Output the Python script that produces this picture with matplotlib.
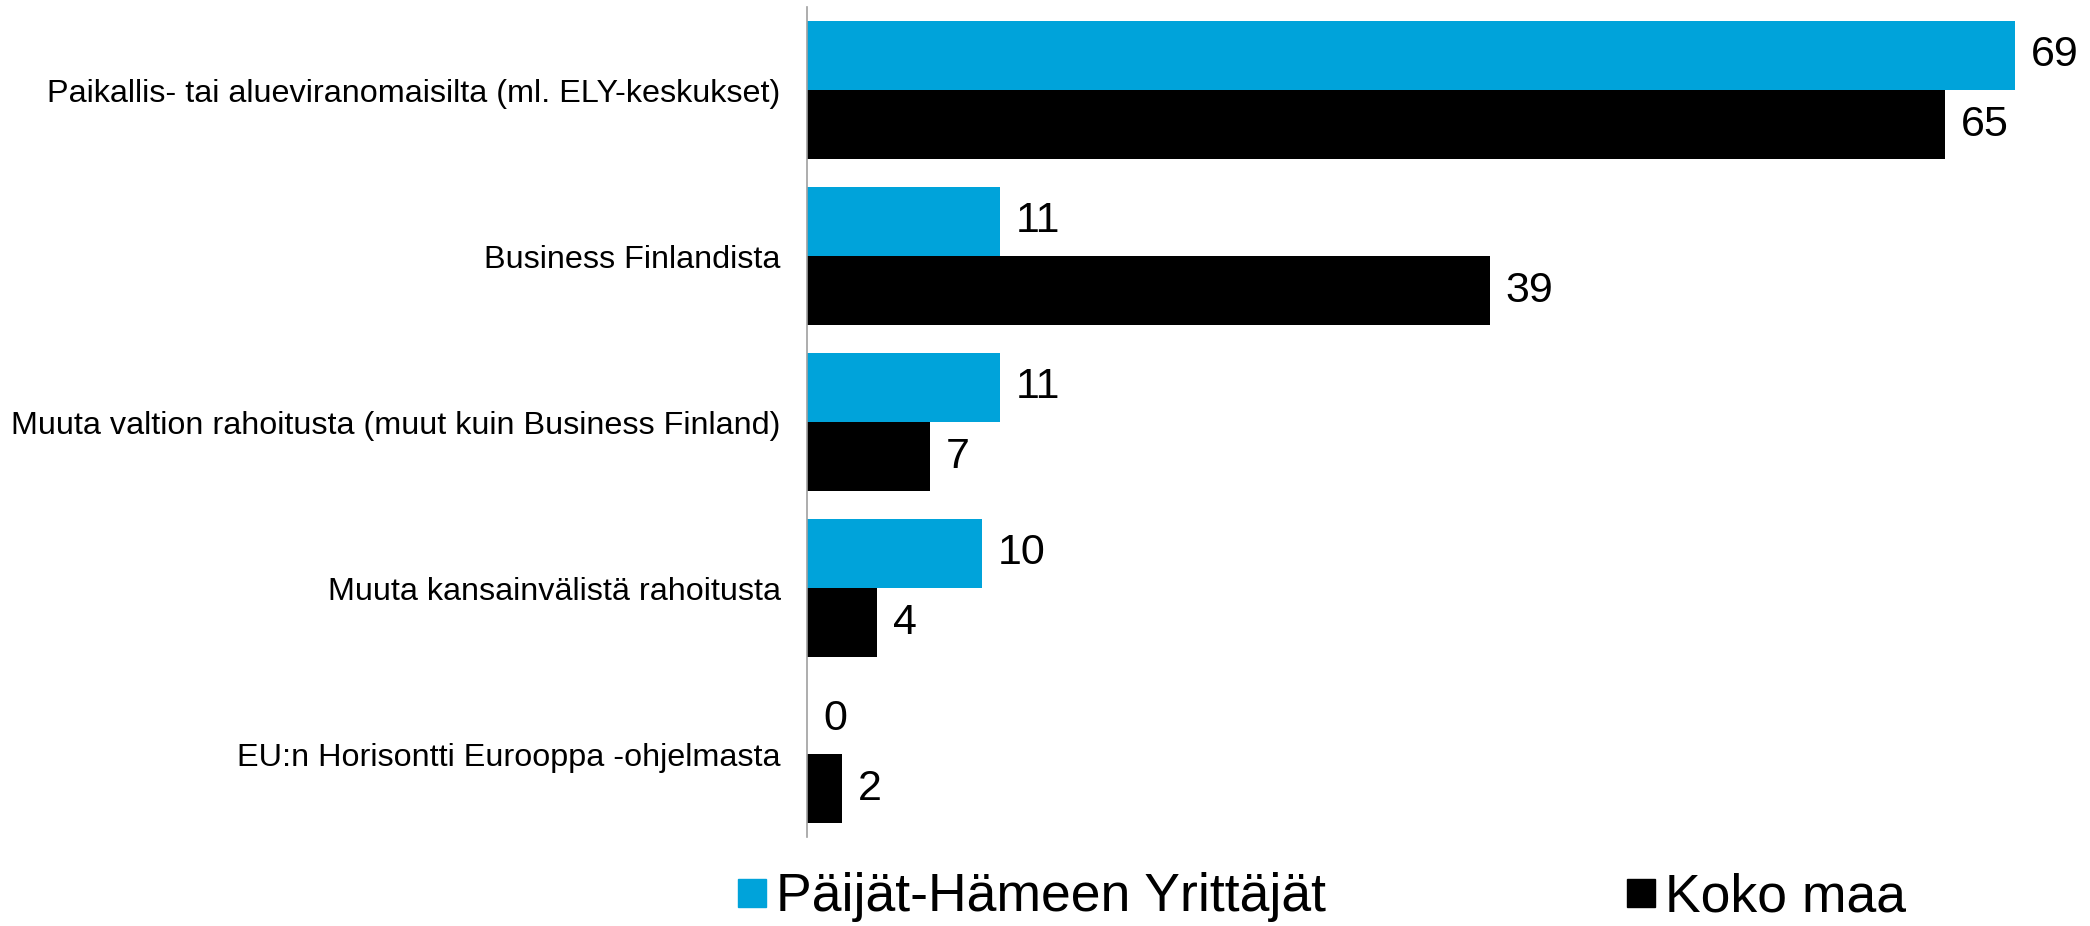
import matplotlib.pyplot as plt
import numpy as np
from matplotlib.lines import Line2D

categories = [
    'Paikallis- tai alueviranomaisilta (ml. ELY-keskukset)',
    'Business Finlandista',
    'Muuta valtion rahoitusta (muut kuin Business Finland)',
    'Muuta kansainvälistä rahoitusta',
    'EU:n Horisontti Eurooppa -ohjelmasta',
]
paijat_hame = [69, 11, 11, 10, 0]
koko_maa = [65, 39, 7, 4, 2]
series_names = ['Päijät-Hämeen Yrittäjät', 'Koko maa']
colors = ['#00a3da', '#000000']

plt.rcParams['font.family'] = ['Liberation Sans', 'DejaVu Sans']

fig = plt.figure(figsize=(20.9, 9.26), dpi=100)
ax = fig.add_axes([807 / 2090, 89 / 926, 1 - 807 / 2090, 830 / 926])

y = np.arange(len(categories))
h = 0.418
bars1 = ax.barh(y - h / 2, paijat_hame, height=h, color=colors[0])
bars2 = ax.barh(y + h / 2, koko_maa, height=h, color=colors[1])
ax.bar_label(bars1, padding=11.5, fontsize=31)
ax.bar_label(bars2, padding=11.5, fontsize=31)

ax.set_ylim(len(categories) - 0.5, -0.5)
ax.set_xlim(0, 73.3)
ax.set_yticks(y)
ax.set_yticklabels(categories, fontsize=23.3)
ax.tick_params(axis='y', length=0, pad=19)
ax.set_xticks([])
for side in ['top', 'right', 'bottom']:
    ax.spines[side].set_visible(False)
ax.spines['left'].set_color('#a0a0a0')
ax.spines['left'].set_linewidth(1.2)

handles = [Line2D([], [], marker='s', linestyle='none', markersize=20,
                  color=c) for c in colors]
fig.legend(handles, series_names, loc='center', bbox_to_anchor=(0.632, 0.031),
           ncol=2, frameon=False, fontsize=38.5, handletextpad=0.15,
           columnspacing=5.6, handlelength=0.6, borderaxespad=0)

fig.savefig('out.png', dpi=100)
